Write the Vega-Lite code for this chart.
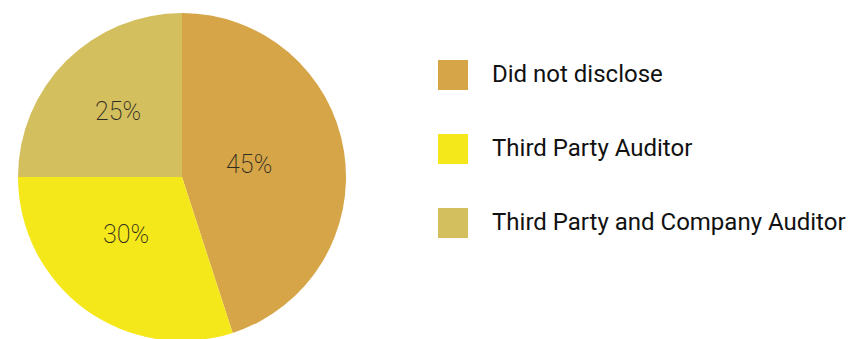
{
  "$schema": "https://vega.github.io/schema/vega-lite/v6.json",
  "width": 328,
  "height": 328,
  "padding": {"left": 18, "top": 13, "right": 0, "bottom": 0},
  "background": "white",
  "config": {"view": {"stroke": null}},
  "data": {
    "values": [
      {"category": "Did not disclose", "value": 45, "label": "45%", "order": 1},
      {"category": "Third Party Auditor", "value": 30, "label": "30%", "order": 2},
      {"category": "Third Party and Company Auditor", "value": 25, "label": "25%", "order": 3}
    ]
  },
  "encoding": {
    "theta": {"field": "value", "type": "quantitative", "stack": true},
    "order": {"field": "order", "type": "quantitative"},
    "color": {
      "field": "category",
      "type": "nominal",
      "sort": ["Did not disclose", "Third Party Auditor", "Third Party and Company Auditor"],
      "scale": {
        "domain": ["Did not disclose", "Third Party Auditor", "Third Party and Company Auditor"],
        "range": ["#D6A548", "#F5E81A", "#D3BF5E"]
      },
      "legend": {
        "title": null,
        "orient": "none",
        "legendX": 420,
        "legendY": 47,
        "symbolType": "square",
        "symbolSize": 900,
        "symbolStrokeWidth": 0,
        "symbolOpacity": 1,
        "labelFont": "Roboto",
        "labelFontSize": 24,
        "labelColor": "#111111",
        "labelOffset": 24,
        "rowPadding": 44,
        "labelLimit": 500
      }
    }
  },
  "layer": [
    {"mark": {"type": "arc", "outerRadius": 164, "stroke": null}},
    {
      "mark": {"type": "text", "radius": 68, "dy": -1, "font": "Roboto", "fontWeight": 200, "fontSize": 25, "fill": "#2e2b20"},
      "encoding": {"text": {"condition": {"test": "datum.order == 1", "field": "label"}, "value": ""}, "color": {"value": "#2e2b20"}}
    },
    {
      "mark": {"type": "text", "radius": 80, "dx": -9, "dy": -7, "font": "Roboto", "fontWeight": 200, "fontSize": 25, "fill": "#2e2b20"},
      "encoding": {"text": {"condition": {"test": "datum.order == 2", "field": "label"}, "value": ""}, "color": {"value": "#2e2b20"}}
    },
    {
      "mark": {"type": "text", "radius": 92, "dx": 1, "dy": 0, "font": "Roboto", "fontWeight": 200, "fontSize": 25, "fill": "#2e2b20"},
      "encoding": {"text": {"condition": {"test": "datum.order == 3", "field": "label"}, "value": ""}, "color": {"value": "#2e2b20"}}
    }
  ]
}
